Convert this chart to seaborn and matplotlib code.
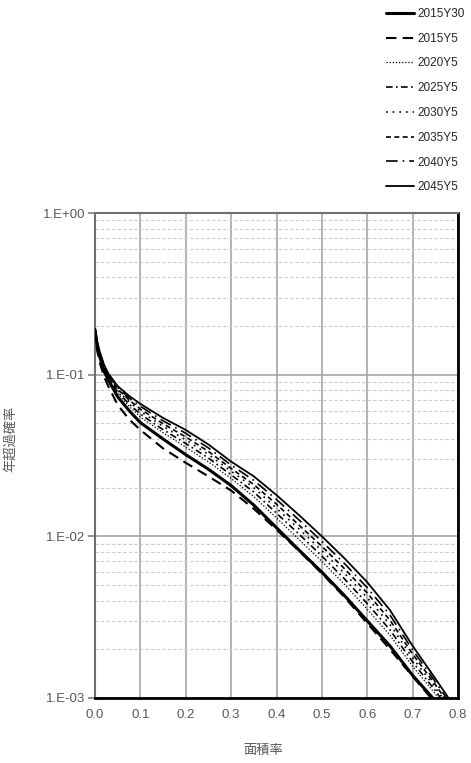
import numpy as np
import pandas as pd
import matplotlib
matplotlib.use("Agg")
import matplotlib.pyplot as plt
import seaborn as sns

# ---- data ----
area_rate = [0, 0.005, 0.01, 0.02, 0.03, 0.05, 0.075, 0.1, 0.15, 0.2, 0.25, 0.3,
             0.35, 0.4, 0.45, 0.5, 0.55, 0.6, 0.65, 0.7, 0.75, 0.8]

s2015Y30 = [0.19, 0.15, 0.13, 0.105, 0.092, 0.073, 0.060, 0.0505, 0.040, 0.032, 0.026, 0.0206,
            0.0156, 0.0113, 0.0082, 0.0060, 0.0043, 0.0030, 0.0021, 0.00138, 0.00096, 0.00062]
s2015Y5 = [0.19, 0.14, 0.12, 0.097, 0.084, 0.065, 0.053, 0.0455, 0.035, 0.0285, 0.0235, 0.0192,
           0.0148, 0.0110, 0.0081, 0.0059, 0.0042, 0.0029, 0.0020, 0.00136, 0.00093, 0.0006]
s2020Y5 = [0.19, 0.153, 0.133, 0.108, 0.0946, 0.0764, 0.0638, 0.0547, 0.0438, 0.0356, 0.0289, 0.0228,
           0.0176, 0.0130, 0.00953, 0.0070, 0.00504, 0.00354, 0.00245, 0.00157, 0.00106, 0.000675]
s2025Y5 = [0.19, 0.154, 0.134, 0.109, 0.096, 0.0782, 0.0659, 0.0570, 0.0457, 0.0375, 0.0305, 0.0240,
           0.0188, 0.0139, 0.0103, 0.00755, 0.00545, 0.00384, 0.00264, 0.00167, 0.00111, 0.000703]
s2030Y5 = [0.19, 0.156, 0.136, 0.111, 0.0973, 0.080, 0.0681, 0.0593, 0.0479, 0.0395, 0.0321, 0.0253,
           0.0200, 0.0149, 0.0111, 0.00815, 0.0059, 0.00417, 0.00285, 0.00177, 0.00116, 0.000733]
s2035Y5 = [0.19, 0.157, 0.137, 0.112, 0.0984, 0.0814, 0.0698, 0.0612, 0.0497, 0.0412, 0.0335, 0.0263,
           0.0209, 0.0158, 0.0117, 0.00867, 0.0063, 0.00446, 0.00303, 0.00187, 0.00121, 0.000759]
s2040Y5 = [0.19, 0.158, 0.138, 0.1135, 0.0995, 0.0832, 0.0718, 0.0637, 0.0518, 0.0434, 0.0352, 0.0276,
           0.0222, 0.0169, 0.0126, 0.00931, 0.00678, 0.00481, 0.00326, 0.00198, 0.00126, 0.000789]
s2045Y5 = [0.19, 0.16, 0.14, 0.115, 0.101, 0.085, 0.074, 0.066, 0.054, 0.0455, 0.037, 0.029,
           0.0235, 0.018, 0.0135, 0.0100, 0.0073, 0.0052, 0.0035, 0.0021, 0.00132, 0.00082]

series_names = ["2015Y30", "2015Y5", "2020Y5", "2025Y5", "2030Y5", "2035Y5", "2040Y5", "2045Y5"]
series_vals = [s2015Y30, s2015Y5, s2020Y5, s2025Y5, s2030Y5, s2035Y5, s2040Y5, s2045Y5]

x_ticks = [0.0, 0.1, 0.2, 0.3, 0.4, 0.5, 0.6, 0.7, 0.8]
y_ticks = [1e-3, 1e-2, 1e-1, 1e0]
y_tick_labels = ["1.E-03", "1.E-02", "1.E-01", "1.E+00"]
x_label = "面積率"
y_label = "年超過確率"

# ---- styles ----
styles = {
    "2015Y30": dict(lw=2.2, dashes=None),
    "2015Y5": dict(lw=1.5, dashes=(5, 3)),
    "2020Y5": dict(lw=0.9, dashes=(1, 1.5)),
    "2025Y5": dict(lw=1.2, dashes=(4, 2, 1, 2)),
    "2030Y5": dict(lw=1.2, dashes=(1, 3)),
    "2035Y5": dict(lw=1.2, dashes=(3, 2)),
    "2040Y5": dict(lw=1.2, dashes=(7, 3, 1, 3)),
    "2045Y5": dict(lw=1.3, dashes=None),
}

sns.set_theme(style="white")
plt.rcParams["font.family"] = ["Liberation Sans", "Noto Sans CJK JP", "DejaVu Sans"]

fig = plt.figure(figsize=(4.71, 7.63), dpi=100)
ax = fig.add_axes([95 / 471, 65 / 763, 363 / 471, 485 / 763])

rows = []
for name, vals in zip(series_names, series_vals):
    for xv, yv in zip(area_rate, vals):
        rows.append((name, xv, yv))
df = pd.DataFrame(rows, columns=["series", "x", "y"])

handles = []
for name in series_names:
    sub = df[df["series"] == name]
    st = styles[name]
    sns.lineplot(data=sub, x="x", y="y", ax=ax, color="black", lw=st["lw"],
                 legend=False, zorder=3)
    line = ax.get_lines()[-1]
    if st["dashes"] is not None:
        line.set_dashes(st["dashes"])
    line.set_label(name)
    handles.append(line)

ax.set_yscale("log")
ax.set_xlim(0, 0.8)
ax.set_ylim(1e-3, 1)
ax.set_xticks(x_ticks)
ax.set_xticklabels([f"{v:.1f}" for v in x_ticks])
ax.set_yticks(y_ticks)
ax.set_yticklabels(y_tick_labels)
ax.yaxis.set_minor_locator(matplotlib.ticker.LogLocator(base=10, subs=np.arange(2, 10)))
ax.yaxis.set_minor_formatter(matplotlib.ticker.NullFormatter())

ax.grid(which="major", axis="both", color="#a6a6a6", lw=1.2, ls="-", zorder=0)
ax.grid(which="minor", axis="y", color="#cccccc", lw=0.8, ls=(0, (3, 2)), zorder=0)
ax.set_axisbelow(True)

ax.tick_params(axis="y", which="major", length=5, width=1.2, color="#808080",
               labelsize=9.5, labelcolor="#595959", pad=2, left=True)
ax.tick_params(axis="y", which="minor", length=0)
ax.tick_params(axis="x", which="major", length=0, labelsize=9.5, labelcolor="#595959", pad=8)

for side in ["top", "left"]:
    ax.spines[side].set_color("#707070")
    ax.spines[side].set_linewidth(1.5)
for side in ["right", "bottom"]:
    ax.spines[side].set_color("black")
    ax.spines[side].set_linewidth(2.0)

ax.set_xlabel(x_label, fontsize=9.5, color="#595959", family=["Noto Sans CJK JP", "DejaVu Sans"])
ax.xaxis.set_label_coords(0.463, -0.095)
ax.set_ylabel(y_label, fontsize=9.5, color="#595959", family=["Noto Sans CJK JP", "DejaVu Sans"])
ax.yaxis.set_label_coords(-0.215, 0.534)

fig.legend(handles=handles, labels=series_names, loc="upper left",
           bbox_to_anchor=(386 / 471, 1 - 8 / 763), frameon=False,
           fontsize=8.5, handlelength=2.4, handletextpad=0.3, labelspacing=1.08,
           borderpad=0, borderaxespad=0)

fig.savefig("out.png", dpi=100)
